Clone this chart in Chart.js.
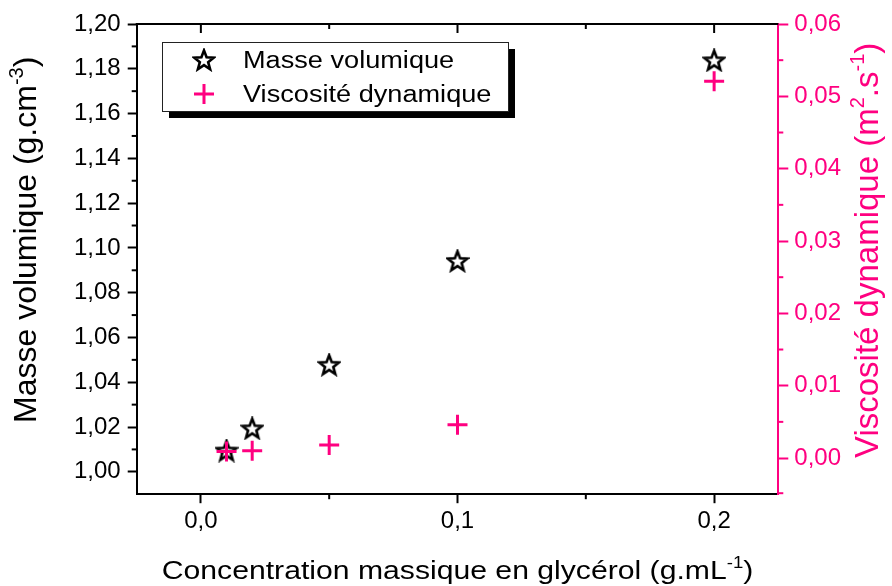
<!DOCTYPE html>
<html>
<head>
<meta charset="utf-8">
<script src="https://cdn.jsdelivr.net/npm/chart.js@4.4.1/dist/chart.umd.min.js"></script>
<style>
  html, body { margin: 0; padding: 0; background: #fff; }
  #wrap { width: 892px; height: 586px; }
</style>
</head>
<body>
<div id="wrap"><canvas id="chart" width="892" height="586"></canvas></div>
<script>
"use strict";

// 1: data
const concentration = [0.01, 0.02, 0.05, 0.1, 0.2];
const masseVolumique = [1.0095, 1.0194, 1.0478, 1.0942, 1.1838];
const viscosite = [0.0009, 0.0010, 0.0018, 0.0046, 0.0521];

const xTicks = [0.0, 0.1, 0.2];
const leftTicks = [1.00, 1.02, 1.04, 1.06, 1.08, 1.10, 1.12, 1.14, 1.16, 1.18, 1.20];
const rightTicks = [0.00, 0.01, 0.02, 0.03, 0.04, 0.05, 0.06];

const PINK = '#ff0080';
const FONT = '"Liberation Sans", Arial, sans-serif';
const STRETCH = 1.16; // horizontal text in the original is a little wider than Arial

// 2: star marker drawn once on a small canvas
function makeStar(size) {
  const c = document.createElement('canvas');
  c.width = size;
  c.height = size;
  const g = c.getContext('2d');
  const cx = size / 2, cy = size / 2 + 0.8;
  const ro = size / 2 - 1.6, ri = ro * 0.42;
  g.beginPath();
  for (let i = 0; i < 10; i++) {
    const r = i % 2 === 0 ? ro : ri;
    const a = -Math.PI / 2 + i * Math.PI / 5;
    const px = cx + r * Math.cos(a), py = cy + r * Math.sin(a);
    if (i === 0) g.moveTo(px, py); else g.lineTo(px, py);
  }
  g.closePath();
  g.fillStyle = '#fff';
  g.fill();
  g.lineWidth = 2.6;
  g.strokeStyle = '#000';
  g.stroke();
  return c;
}
const star = makeStar(24);

function toPoints(xs, ys) {
  return xs.map((x, i) => ({ x: x, y: ys[i] }));
}

function fmt(digits) {
  return v => Number(v).toFixed(digits).replace('.', ',');
}

// text with superscripts; (x, y) is the start of the baseline (or its centre)
function drawRich(ctx, parts, x, y, size, color, rot, sx, centred) {
  ctx.save();
  ctx.translate(x, y);
  ctx.rotate(rot || 0);
  ctx.scale(sx || 1, 1);
  ctx.fillStyle = color;
  ctx.textBaseline = 'alphabetic';
  ctx.textAlign = 'left';
  let total = 0;
  for (const p of parts) {
    ctx.font = (p.sup ? Math.round(size * 0.62) : size) + 'px ' + FONT;
    total += ctx.measureText(p.t).width;
  }
  let cx = centred ? -total / 2 : 0;
  for (const p of parts) {
    ctx.font = (p.sup ? Math.round(size * 0.62) : size) + 'px ' + FONT;
    ctx.fillText(p.t, cx, p.sup ? -size * 0.42 : 0);
    cx += ctx.measureText(p.t).width;
  }
  ctx.restore();
}

// minor ticks, top axis, titles and framed legend
const framePlugin = {
  id: 'frame',
  beforeDatasetsDraw(chart) {
    const { ctx, chartArea: a, scales } = chart;
    const line = (x1, y1, x2, y2, color) => {
      ctx.beginPath();
      ctx.moveTo(x1, y1);
      ctx.lineTo(x2, y2);
      ctx.strokeStyle = color;
      ctx.lineWidth = 2;
      ctx.stroke();
    };
    ctx.save();
    line(a.left - 1, a.top, a.right, a.top, '#000');
    for (const v of xTicks) {
      const px = scales.x.getPixelForValue(v);
      line(px, a.top, px, a.top + 9, '#000');
    }
    for (let i = 0; i < xTicks.length - 1; i++) {
      const px = scales.x.getPixelForValue((xTicks[i] + xTicks[i + 1]) / 2);
      line(px, a.top, px, a.top + 5, '#000');
      line(px, a.bottom, px, a.bottom + 5, '#000');
    }
    for (let i = 0; i < leftTicks.length - 1; i++) {
      const py = scales.y.getPixelForValue((leftTicks[i] + leftTicks[i + 1]) / 2);
      line(a.left, py, a.left - 5, py, '#000');
    }
    for (let i = 0; i < rightTicks.length - 1; i++) {
      const py = scales.y1.getPixelForValue((rightTicks[i] + rightTicks[i + 1]) / 2);
      line(a.right, py, a.right + 5, py, PINK);
    }
    const pyLow = scales.y1.getPixelForValue(rightTicks[0] - 0.005);
    line(a.right, pyLow - 1, a.right + 5, pyLow - 1, PINK);
    ctx.restore();
  },
  afterDraw(chart) {
    const { ctx, chartArea: a } = chart;
    drawRich(ctx, [{ t: 'Masse volumique (g.cm' }, { t: '-3', sup: true }, { t: ')' }],
      36, 423, 32, '#000', -Math.PI / 2, 1, false);
    drawRich(ctx, [{ t: 'Viscosité dynamique (m' }, { t: '2', sup: true }, { t: '.s' }, { t: '-1', sup: true }, { t: ')' }],
      878, 458, 33, PINK, -Math.PI / 2, 1, false);
    drawRich(ctx, [{ t: 'Concentration massique en glycérol (g.mL' }, { t: '-1', sup: true }, { t: ')' }],
      (a.left + a.right) / 2, 579, 26, '#000', 0, STRETCH, true);

    // legend box with shadow
    const bx = 162, by = 42, bw = 346, bh = 69;
    ctx.save();
    ctx.fillStyle = '#000';
    ctx.fillRect(bx + 7, by + 7, bw, bh);
    ctx.fillStyle = '#fff';
    ctx.fillRect(bx, by, bw, bh);
    ctx.strokeStyle = '#222';
    ctx.lineWidth = 1;
    ctx.strokeRect(bx + 0.5, by + 0.5, bw, bh);
    const ds = chart.data.datasets;
    const rows = [ds[1], ds[0]];
    ctx.font = '23px ' + FONT;
    ctx.textBaseline = 'alphabetic';
    rows.forEach((d, i) => {
      const ry = by + 18 + i * 34;
      if (d.pointStyle === 'cross') {
        ctx.strokeStyle = PINK;
        ctx.lineWidth = 3;
        ctx.beginPath();
        ctx.moveTo(204 - 10, ry);
        ctx.lineTo(204 + 10, ry);
        ctx.moveTo(204, ry - 10);
        ctx.lineTo(204, ry + 10);
        ctx.stroke();
      } else {
        ctx.drawImage(star, 204 - star.width / 2, ry - star.height / 2);
      }
      ctx.save();
      ctx.translate(243, ry + 8);
      ctx.scale(1.18, 1);
      ctx.fillStyle = '#000';
      ctx.fillText(d.label, 0, 0);
      ctx.restore();
    });
    ctx.restore();
  }
};

// 3: create the chart
function appendChart() {
  const tickFont = { family: FONT, size: 24 };
  new Chart(document.getElementById('chart'), {
    type: 'scatter',
    data: {
      datasets: [{
        label: 'Viscosité dynamique',
        data: toPoints(concentration, viscosite),
        yAxisID: 'y1',
        pointStyle: 'cross',
        pointRadius: 10,
        pointBorderWidth: 3,
        borderColor: PINK,
        backgroundColor: PINK,
        order: 0
      }, {
        label: 'Masse volumique',
        data: toPoints(concentration, masseVolumique),
        yAxisID: 'y',
        pointStyle: star,
        pointRadius: 11,
        order: 1
      }]
    },
    options: {
      responsive: false,
      animation: false,
      devicePixelRatio: 1,
      layout: { padding: { left: 67, right: 45, top: 24, bottom: 46 } },
      plugins: { legend: { display: false }, tooltip: { enabled: false } },
      scales: {
        x: {
          type: 'linear',
          position: 'bottom',
          min: -0.025,
          max: 0.225,
          afterBuildTicks: s => { s.ticks = xTicks.map(v => ({ value: v })); },
          ticks: { callback: fmt(1), font: tickFont, color: '#000', padding: 4, maxRotation: 0, autoSkip: false },
          grid: { drawOnChartArea: false, tickLength: 9, tickWidth: 2, tickColor: '#000' },
          border: { color: '#000', width: 2 }
        },
        y: {
          type: 'linear',
          position: 'left',
          min: 0.99,
          max: 1.20,
          afterBuildTicks: s => { s.ticks = leftTicks.map(v => ({ value: v })); },
          ticks: { callback: fmt(2), font: tickFont, color: '#000', padding: 7, autoSkip: false },
          grid: { drawOnChartArea: false, tickLength: 9, tickWidth: 2, tickColor: '#000' },
          border: { color: '#000', width: 2 }
        },
        y1: {
          type: 'linear',
          position: 'right',
          min: -0.005,
          max: 0.06,
          afterBuildTicks: s => { s.ticks = rightTicks.map(v => ({ value: v })); },
          ticks: { callback: fmt(2), font: tickFont, color: PINK, padding: 6, autoSkip: false },
          grid: { drawOnChartArea: false, tickLength: 10, tickWidth: 2, tickColor: PINK },
          border: { color: PINK, width: 2 }
        }
      }
    },
    plugins: [framePlugin]
  });
}

appendChart();
</script>
</body>
</html>
